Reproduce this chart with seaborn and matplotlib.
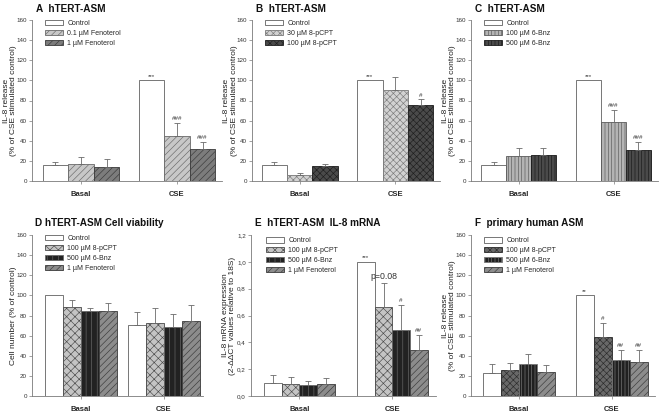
import numpy as np
import pandas as pd
import matplotlib
matplotlib.use("Agg")
import matplotlib.pyplot as plt
import seaborn as sns
from matplotlib.patches import Patch
from matplotlib.ticker import FuncFormatter

sns.set_style("ticks")
plt.rcParams["font.family"] = ["Liberation Sans", "DejaVu Sans"]
plt.rcParams["hatch.linewidth"] = 0.45

groups = ["Basal", "CSE"]

# Panel A
a_series = ["Control", "0.1 µM Fenoterol", "1 µM Fenoterol"]
a_mean = [[16, 100], [17, 45], [14, 32]]
a_err = [[3, 0], [7, 13], [8, 7]]
a_notes = [(0, 1, "***"), (1, 1, "###"), (2, 1, "###")]

# Panel B
b_series = ["Control", "30 µM 8-pCPT", "100 µM 8-pCPT"]
b_mean = [[16, 100], [6, 90], [15, 76]]
b_err = [[3, 0], [1.5, 13], [2, 5]]
b_notes = [(0, 1, "***"), (2, 1, "#")]

# Panel C
c_series = ["Control", "100 µM 6-Bnz", "500 µM 6-Bnz"]
c_mean = [[16, 100], [25, 59], [26, 31]]
c_err = [[3, 0], [8, 12], [7, 8]]
c_notes = [(0, 1, "***"), (1, 1, "###"), (2, 1, "###")]

# Panel D
d_series = ["Control", "100 µM 8-pCPT", "500 µM 6-Bnz", "1 µM Fenoterol"]
d_mean = [[100, 71], [88, 73], [84, 69], [84, 75]]
d_err = [[0, 12], [7, 14], [3, 12], [8, 15]]
d_notes = []

# Panel E
e_series = ["Control", "100 µM 8-pCPT", "500 µM 6-Bnz", "1 µM Fenoterol"]
e_mean = [[0.10, 1.0], [0.09, 0.66], [0.08, 0.49], [0.09, 0.34]]
e_err = [[0.055, 0], [0.05, 0.185], [0.03, 0.19], [0.045, 0.115]]
e_notes = [(0, 1, "***"), (1, 1, "p=0.08"), (2, 1, "#"), (3, 1, "##")]

# Panel F
f_series = ["Control", "100 µM 8-pCPT", "500 µM 6-Bnz", "1 µM Fenoterol"]
f_mean = [[23, 100], [26, 59], [32, 36], [24, 34]]
f_err = [[9, 0], [7, 14], [10, 10], [7, 12]]
f_notes = [(0, 1, "**"), (1, 1, "#"), (2, 1, "##"), (3, 1, "##")]

titles = ["A  hTERT-ASM", "B  hTERT-ASM", "C  hTERT-ASM",
          "D hTERT-ASM Cell viability", "E  hTERT-ASM  IL-8 mRNA", "F  primary human ASM"]
ylabels = ["IL-8 release\n(% of CSE stimulated control)"] * 3 + \
          ["Cell number (% of control)", "IL-8 mRNA expression\n(2-ΔΔCT values relative to 18S)",
           "IL-8 release\n(% of CSE stimulated control)"]

# styles: (face, hatchcolor, hatch)
CTRL = ("#ffffff", "#606060", "")
styles = [
    [CTRL, ("#c8c8c8", "#6a6a6a", "/////"), ("#7c7c7c", "#3a3a3a", "/////")],
    [CTRL, ("#d2d2d2", "#7a7a7a", "xxxxx"), ("#4a4a4a", "#1e1e1e", "xxxxx")],
    [CTRL, ("#b4b4b4", "#5a5a5a", "|||||"), ("#4a4a4a", "#1a1a1a", "|||||")],
    [CTRL, ("#c4c4c4", "#4a4a4a", "xxxx"), ("#222222", "#6a6a6a", "|||"), ("#8c8c8c", "#3a3a3a", "/////")],
    [CTRL, ("#c4c4c4", "#4a4a4a", "xxxx"), ("#222222", "#6a6a6a", "|||"), ("#8c8c8c", "#3a3a3a", "/////")],
    [CTRL, ("#686868", "#2a2a2a", "xxxxx"), ("#202020", "#7a7a7a", "|||||"), ("#8c8c8c", "#3a3a3a", "/////")],
]

panels = [
    (a_series, a_mean, a_err, a_notes),
    (b_series, b_mean, b_err, b_notes),
    (c_series, c_mean, c_err, c_notes),
    (d_series, d_mean, d_err, d_notes),
    (e_series, e_mean, e_err, e_notes),
    (f_series, f_mean, f_err, f_notes),
]

W, H = 660, 412
# layout in pixels: axis left, spacing between groups, left offset (units), bar group width
layout = [
    (32, 96, 0.51, 0.80),
    (252, 95.5, 0.50, 0.80),
    (471, 95, 0.50, 0.78),
    (32, 83, 0.59, 0.87),
    (251, 93, 0.52, 0.76),
    (471, 92.5, 0.52, 0.78),
]
ylims = [160, 160, 160, 160, 1.2, 160]

fig = plt.figure(figsize=(W / 100, H / 100), dpi=100)
GREY = "#7a7a7a"

for k, ((series, mean, err, notes), (left, sp, off, gw)) in enumerate(zip(panels, layout)):
    row = k // 3
    top_px, bot_px = (20, 181) if row == 0 else (235, 396)
    right_units = 1.47
    width_px = (off + right_units) * sp
    ax = fig.add_axes([left / W, 1 - bot_px / H, width_px / W, (bot_px - top_px) / H])

    recs = []
    for i, s in enumerate(series):
        for j, g in enumerate(groups):
            recs.append({"group": g, "series": s, "value": mean[i][j]})
    df = pd.DataFrame(recs)
    pal = {s: styles[k][i][0] for i, s in enumerate(series)}
    sns.barplot(data=df, x="group", y="value", hue="series", order=groups,
                hue_order=series, palette=pal, width=gw, errorbar=None,
                legend=False, ax=ax, saturation=1)

    patches = list(ax.patches)
    ng = len(groups)
    ymax = ylims[k]
    for i, s in enumerate(series):
        face, hcol, hatch = styles[k][i]
        for j in range(ng):
            p = patches[i * ng + j]
            p.set_facecolor(face)
            p.set_edgecolor(hcol)
            p.set_hatch(hatch)
            p.set_linewidth(0.6)
            xc = p.get_x() + p.get_width() / 2
            e = err[i][j]
            if e > 0:
                ax.errorbar([xc], [mean[i][j]], yerr=[[0], [e]], fmt="none",
                            ecolor="#6a6a6a", elinewidth=0.6, capsize=2.2,
                            capthick=0.6, zorder=3)
    for (i, j, txt) in notes:
        p = patches[i * ng + j]
        xc = p.get_x() + p.get_width() / 2
        ytop = mean[i][j] + err[i][j]
        fs = 6.3 if txt.startswith("p=") else 4.5
        ax.annotate(txt, (xc, ytop), xytext=(0, 1.2), textcoords="offset points",
                    ha="center", va="bottom", fontsize=fs, color="#333333")

    ax.set_xlim(-off, right_units)
    ax.set_ylim(0, ymax)
    if ymax == 1.2:
        ax.set_yticks(np.arange(0, 1.21, 0.2))
        ax.yaxis.set_major_formatter(FuncFormatter(lambda v, pos: f"{v:.1f}".replace(".", ",")))
    else:
        ax.set_yticks(np.arange(0, 161, 20))
    ax.set_xlabel("")
    ax.set_ylabel(ylabels[k], fontsize=6, color="#222222", linespacing=1.1)
    ax.yaxis.set_label_coords(-14.5 / width_px, 0.5)
    ax.set_xticks(range(ng))
    ax.set_xticklabels(groups, fontsize=5.5, fontweight="bold")
    ax.tick_params(axis="y", labelsize=4.5, length=2.2, width=0.5, color=GREY, pad=1.5,
                   labelcolor="#333333")
    ax.tick_params(axis="x", length=2.2, width=0.5, color=GREY, pad=5)
    for sname in ["top", "right"]:
        ax.spines[sname].set_visible(False)
    for sname in ["left", "bottom"]:
        ax.spines[sname].set_color(GREY)
        ax.spines[sname].set_linewidth(0.6)

    ax.text(0.02, 1.035 if row == 0 else 1.045, titles[k], transform=ax.transAxes,
            fontsize=7.2, fontweight="bold", ha="left", va="bottom", color="#111111")

    handles = [Patch(facecolor=styles[k][i][0], edgecolor=styles[k][i][1],
                     hatch=styles[k][i][2], linewidth=0.6) for i in range(len(series))]
    lx = 13 / width_px if k != 4 else 15 / width_px
    ly = 1.0 if k not in (4, 5) else 0.985
    ax.legend(handles, series, loc="upper left", bbox_to_anchor=(lx, ly), frameon=False,
              fontsize=5, handlelength=2.6, handleheight=0.75, labelspacing=0.42,
              handletextpad=0.6, borderpad=0, borderaxespad=0)

fig.savefig("out.png", dpi=100)
